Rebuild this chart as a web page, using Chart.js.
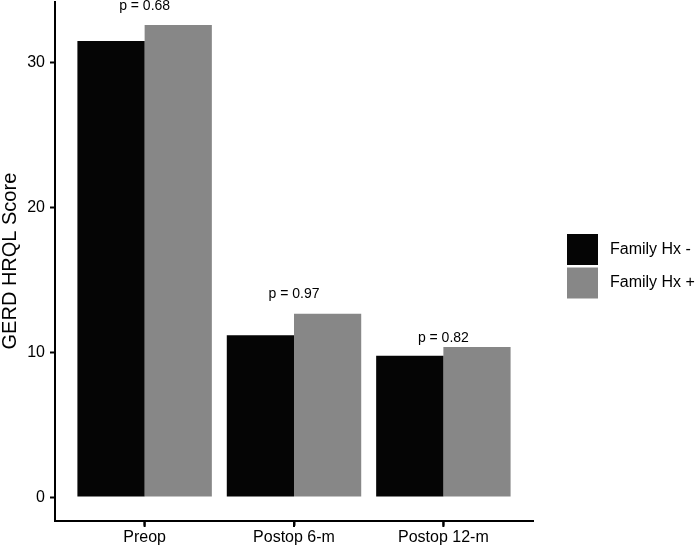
<!DOCTYPE html>
<html>
<head>
<meta charset="utf-8">
<script src="https://cdn.jsdelivr.net/npm/chart.js@4"></script>
<style>
  html, body { margin: 0; padding: 0; background: #fff; }
  #wrap { width: 700px; height: 548px; }
</style>
</head>
<body>
<div id="wrap"><canvas id="gerdChart" width="700" height="548"></canvas></div>
<script>
// data
const categories = ['Preop', 'Postop 6-m', 'Postop 12-m'];
const familyNeg = [31.5, 11.17, 9.77];
const familyPos = [32.6, 12.66, 10.37];
const pLabels = ['p = 0.68', 'p = 0.97', 'p = 0.82'];
const pLabelY = [33.9, 14.0, 10.95];
const yTicks = [0, 10, 20, 30];
const seriesNames = ['Family Hx -', 'Family Hx +'];
const seriesColors = ['#050505', '#878787'];

const FONT = "'Liberation Sans', Arial, Helvetica, sans-serif";

// p-value text above each group
const pValuePlugin = {
  id: 'pValues',
  afterDatasetsDraw(chart) {
    const ctx = chart.ctx;
    const xs = chart.scales.x, ys = chart.scales.y;
    ctx.save();
    ctx.font = '14px ' + FONT;
    ctx.fillStyle = '#000';
    ctx.textAlign = 'center';
    ctx.textBaseline = 'middle';
    pLabels.forEach((t, i) => {
      ctx.fillText(t, xs.getPixelForValue(i + 1), ys.getPixelForValue(pLabelY[i]));
    });
    ctx.restore();
  }
};

// small tick marks under the x axis (at each category)
const xTickMarks = {
  id: 'xTickMarks',
  afterDraw(chart) {
    const ctx = chart.ctx;
    const xs = chart.scales.x;
    const y0 = Math.round(chart.chartArea.bottom);
    ctx.save();
    ctx.fillStyle = '#000';
    categories.forEach((c, i) => {
      const px = xs.getPixelForValue(i + 1);
      ctx.fillRect(px - 1, y0, 2, 6);
    });
    ctx.restore();
  }
};

// legend on the right, ggplot style
const sideLegend = {
  id: 'sideLegend',
  afterDraw(chart) {
    const ctx = chart.ctx;
    ctx.save();
    ctx.font = '16px ' + FONT;
    ctx.textBaseline = 'middle';
    ctx.textAlign = 'left';
    seriesNames.forEach((name, i) => {
      const top = 234 + i * 33.5;
      ctx.fillStyle = seriesColors[i];
      ctx.fillRect(567, top, 31, 31);
      ctx.fillStyle = '#000';
      ctx.fillText(name, 610, top + 15.5);
    });
    ctx.restore();
  }
};

const ctxBar = document.getElementById('gerdChart').getContext('2d');
const gerdChart = new Chart(ctxBar, {
  type: 'bar',
  data: {
    datasets: [familyNeg, familyPos].map((vals, k) => ({
      label: seriesNames[k],
      data: vals.map((v, i) => ({ x: i + 1, y: v })),
      backgroundColor: seriesColors[k],
      borderWidth: 0,
      categoryPercentage: 0.9,
      barPercentage: 1.0
    }))
  },
  options: {
    responsive: false,
    animation: false,
    layout: { padding: { top: 1.5, right: 167, bottom: 0, left: 0 } },
    plugins: {
      legend: { display: false },
      tooltip: { enabled: false }
    },
    scales: {
      x: {
        type: 'linear',
        offset: false,
        min: 0.4,
        max: 3.6,
        afterBuildTicks(scale) {
          scale.ticks = categories.map((c, i) => ({ value: i + 1 }));
        },
        afterFit(scale) {
          scale.height = 27.3;
          scale.paddingLeft = 0;
          scale.paddingRight = 0;
        },
        ticks: {
          callback: (v) => categories[v - 1],
          font: { family: FONT, size: 16 },
          color: '#000',
          padding: 2,
          maxRotation: 0,
          autoSkip: false
        },
        grid: {
          offset: false,
          drawOnChartArea: false,
          drawTicks: true,
          tickLength: 5,
          tickWidth: 2,
          color: '#000',
          tickColor: '#000'
        },
        border: { display: true, color: '#000', width: 2 }
      },
      y: {
        min: -1.63,
        max: 34.23,
        afterBuildTicks(scale) {
          scale.ticks = yTicks.map(v => ({ value: v }));
        },
        afterFit(scale) {
          scale.width = 55;
          scale.paddingTop = 0;
          scale.paddingBottom = 0;
        },
        ticks: {
          font: { family: FONT, size: 16 },
          color: '#000',
          padding: 5
        },
        grid: {
          drawOnChartArea: false,
          drawTicks: true,
          tickLength: 5,
          tickWidth: 2,
          color: '#000'
        },
        border: { display: true, color: '#000', width: 2 },
        title: {
          display: true,
          text: 'GERD HRQL Score',
          font: { family: FONT, size: 20, lineHeight: 1 },
          color: '#000',
          padding: { top: 0, bottom: 0 }
        }
      }
    }
  },
  plugins: [pValuePlugin, xTickMarks, sideLegend]
});
</script>
</body>
</html>
